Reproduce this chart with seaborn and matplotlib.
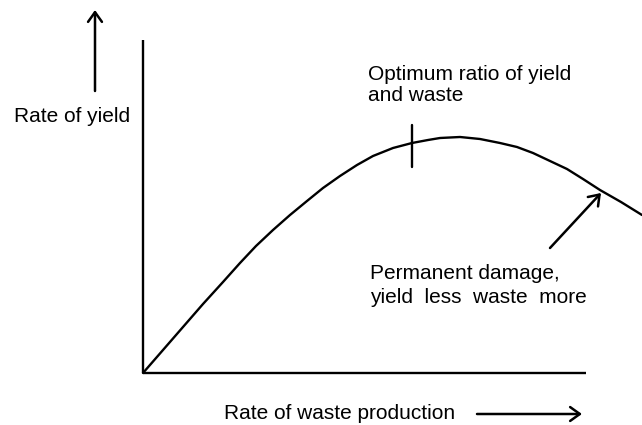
import matplotlib
matplotlib.use("Agg")
import matplotlib.pyplot as plt
import seaborn as sns
import pandas as pd

# Yield-versus-waste response curve (arbitrary units, origin at the axes corner)
waste = [0, 20, 40, 60, 80, 97, 113, 130, 147, 164, 180, 197, 214, 230, 250,
         269, 285, 297, 317, 337, 357, 374, 390, 407, 424, 440, 457, 478, 499]
yield_rate = [0, 23, 46, 69, 91, 110, 127, 143, 158, 172, 185, 197, 208, 217, 225,
              230, 233, 235, 236, 234, 230, 226, 220, 212, 204, 194, 183, 171, 158]

# Position of the optimum marker along the waste axis
optimum_waste = 269

x_label = "Rate of waste production"
y_label = "Rate of yield"
optimum_label = "Optimum ratio of yield\nand waste"
damage_line1 = "Permanent damage,"
damage_line2 = "yield  less  waste  more"

sns.set_style("white")
plt.rcParams["font.family"] = ["Liberation Sans", "DejaVu Sans"]
plt.rcParams["text.color"] = "black"

df = pd.DataFrame({"waste": waste, "yield": yield_rate})

fig = plt.figure(figsize=(6.42, 4.25), dpi=100)
ax = fig.add_axes([0, 0, 1, 1])

lw = 1.7
ink = "black"

# frame of the diagram: plain vertical and horizontal axes
ax.plot([0, 0], [0, 333], color=ink, lw=lw, solid_capstyle="butt")
ax.plot([0, 443], [0, 0], color=ink, lw=lw, solid_capstyle="butt")

sns.lineplot(data=df, x="waste", y="yield", ax=ax, color=ink, lw=lw,
             sort=False, estimator=None, legend=False,
             solid_joinstyle="round")
ax.set_xlim(-143, 499)
ax.set_ylim(-52, 373)
ax.axis("off")

# tick marking the optimum on the curve
ax.plot([optimum_waste, optimum_waste], [206, 248], color=ink, lw=lw)

fs = 15
arrow = dict(arrowstyle="->,head_length=0.35,head_width=0.25", color=ink,
             lw=1.8, mutation_scale=20, shrinkA=0, shrinkB=0)

# y-axis caption with upward arrow
ax.annotate("", xy=(-48, 363), xytext=(-48, 282), arrowprops=arrow)
ax.text(-129, 251, y_label, fontsize=fs, ha="left", va="baseline")

# x-axis caption with rightward arrow
ax.text(81, -46, x_label, fontsize=fs, ha="left", va="baseline")
ax.annotate("", xy=(439, -41), xytext=(334, -41), arrowprops=arrow)

# optimum annotation
ax.text(225, 272, optimum_label, fontsize=fs, ha="left", va="baseline",
        linespacing=1.12)

# damage annotation with arrow pointing at the falling limb
ax.annotate("", xy=(458, 180), xytext=(407, 125), arrowprops=arrow)
ax.text(227, 94, damage_line1, fontsize=fs, ha="left", va="baseline")
ax.text(227, 70, damage_line2, fontsize=fs, ha="left", va="baseline")

fig.savefig("out.png", dpi=100)
